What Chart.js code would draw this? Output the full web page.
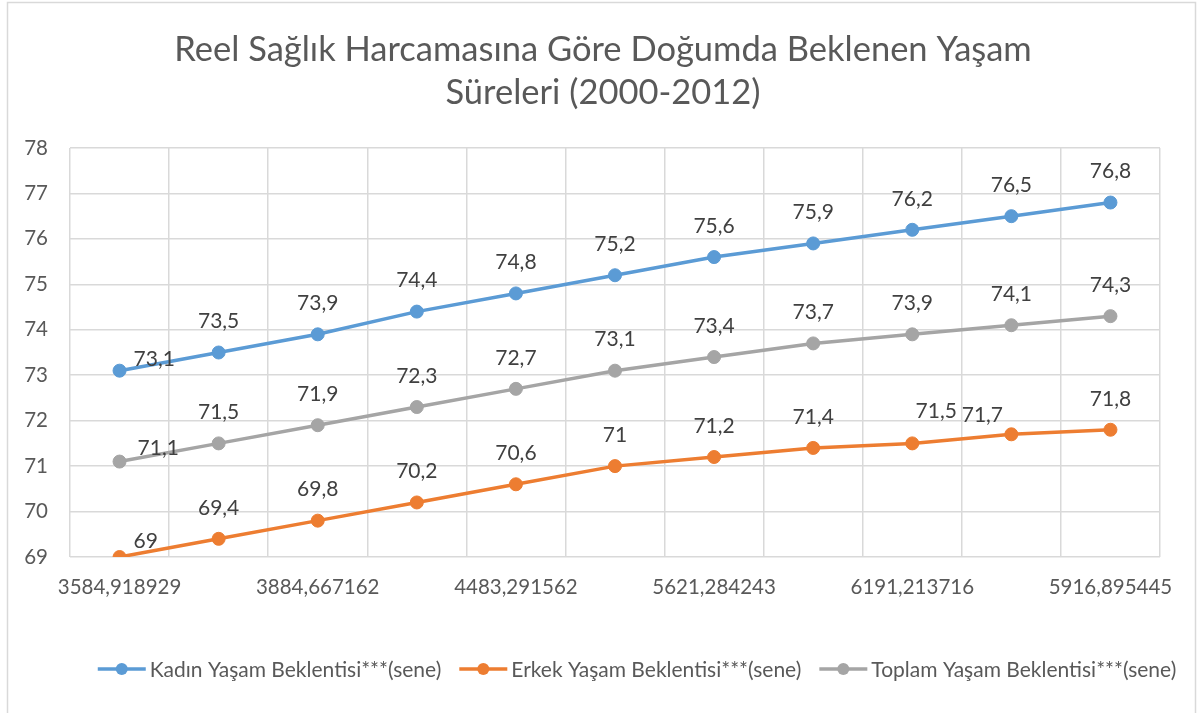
<!DOCTYPE html>
<html><head><meta charset="utf-8">
<script src="https://cdn.jsdelivr.net/npm/chart.js@4.4.1/dist/chart.umd.min.js"></script>
<style>html,body{margin:0;padding:0;background:#fff}#wrap{width:1198px;height:713px;position:relative}canvas{display:block}</style>
</head><body><div id="wrap"><canvas id="c" width="1198" height="713"></canvas></div>
<script>
// ---- data ----
const categories = ['3584,918929', '', '3884,667162', '', '4483,291562', '', '5621,284243', '', '6191,213716', '', '5916,895445'];
const kadin  = [73.1, 73.5, 73.9, 74.4, 74.8, 75.2, 75.6, 75.9, 76.2, 76.5, 76.8];
const erkek  = [69, 69.4, 69.8, 70.2, 70.6, 71, 71.2, 71.4, 71.5, 71.7, 71.8];
const toplam = [71.1, 71.5, 71.9, 72.3, 72.7, 73.1, 73.4, 73.7, 73.9, 74.1, 74.3];
const seriesNames = ['Kadın Yaşam Beklentisi***(sene)', 'Erkek Yaşam Beklentisi***(sene)', 'Toplam Yaşam Beklentisi***(sene)'];
const titleLines = ['Reel Sağlık Harcamasına Göre Doğumda Beklenen Yaşam', 'Süreleri (2000-2012)'];
const yMin = 69, yMax = 78, yStep = 1;

// ---- styling ----
const FONT = 'Lato';
const TEXT = '#595959';
const LABEL = '#404040';
const GRID = '#d9d9d9';
const colors = ['#5b9bd5', '#ed7d31', '#a5a5a5'];

// label nudges (Excel placed a few labels off the default "above" spot)
const nudges = {
  '0:0': {dx: 14, dy: -11, align: 'left'},
  '1:0': {dx: 14, dy: -16, align: 'left'},
  '2:0': {dx: 18, dy: -13, align: 'left'},
  '1:8': {dx: 24, dy: -32, align: 'center'},
  '1:9': {dx: -29, dy: -19, align: 'center'}
};

const fmt = v => String(v).replace('.', ',');

const framePlugin = {
  id: 'frame',
  beforeDraw(chart) {
    const ctx = chart.ctx;
    ctx.save();
    ctx.fillStyle = '#fff';
    ctx.fillRect(0, 0, chart.width, chart.height);
    ctx.strokeStyle = GRID;
    ctx.lineWidth = 1.5;
    ctx.strokeRect(7.5, 2.5, 1188, 730);
    // title
    ctx.fillStyle = TEXT;
    ctx.font = '34.5px ' + FONT;
    ctx.textAlign = 'center';
    ctx.textBaseline = 'middle';
    titleLines.forEach((t, i) => ctx.fillText(t, 603, 50 + i * 43));
    ctx.restore();
  }
};

const labelPlugin = {
  id: 'vlabels',
  afterDatasetsDraw(chart) {
    const ctx = chart.ctx;
    ctx.save();
    ctx.font = '21px ' + FONT;
    ctx.fillStyle = LABEL;
    ctx.textBaseline = 'middle';
    chart.data.datasets.forEach((ds, di) => {
      const meta = chart.getDatasetMeta(di);
      meta.data.forEach((pt, i) => {
        const n = nudges[di + ':' + i] || {dx: 0, dy: -31, align: 'center'};
        ctx.textAlign = n.align;
        ctx.fillText(fmt(ds.data[i]), pt.x + n.dx, pt.y + n.dy);
      });
    });
    ctx.restore();
  }
};

const legendPlugin = {
  id: 'customLegend',
  afterDraw(chart) {
    const ctx = chart.ctx;
    ctx.save();
    ctx.font = '21px ' + FONT;
    const lineW = 48, gapText = 4, gapItem = 18;
    const items = chart.data.datasets.map((ds, i) => ({label: ds.label, color: colors[i], w: ctx.measureText(ds.label).width}));
    let total = 0;
    items.forEach((it, i) => { total += lineW + gapText + it.w + (i < items.length - 1 ? gapItem : 0); });
    let x = 637 - total / 2;
    const y = 669;
    items.forEach(it => {
      ctx.strokeStyle = it.color;
      ctx.lineWidth = 3.5;
      ctx.beginPath(); ctx.moveTo(x, y); ctx.lineTo(x + lineW, y); ctx.stroke();
      ctx.fillStyle = it.color;
      ctx.beginPath(); ctx.arc(x + lineW / 2, y, 6, 0, Math.PI * 2); ctx.fill();
      ctx.fillStyle = TEXT;
      ctx.textAlign = 'left'; ctx.textBaseline = 'middle';
      ctx.fillText(it.label, x + lineW + gapText, y + 1);
      x += lineW + gapText + it.w + gapItem;
    });
    ctx.restore();
  }
};

const mkDs = (label, data, color) => ({
  label, data,
  borderColor: color, backgroundColor: color,
  pointBackgroundColor: color, pointBorderColor: color,
  pointRadius: 6.5, pointBorderWidth: 1, pointHoverRadius: 6.5,
  borderWidth: 3.5, tension: 0, fill: false
});

new Chart(document.getElementById('c'), {
  type: 'line',
  data: {
    labels: categories,
    datasets: [
      mkDs(seriesNames[0], kadin, colors[0]),
      mkDs(seriesNames[1], erkek, colors[1]),
      mkDs(seriesNames[2], toplam, colors[2])
    ]
  },
  options: {
    responsive: false,
    animation: false,
    devicePixelRatio: 1,
    layout: {padding: {left: 0, right: 38, top: 148, bottom: 0}},
    plugins: {
      legend: {display: false},
      tooltip: {enabled: false},
      title: {display: false}
    },
    scales: {
      x: {
        offset: true,
        grid: {offset: true, color: GRID, lineWidth: 1.5, drawTicks: false},
        border: {display: false},
        ticks: {autoSkip: false, maxRotation: 0, minRotation: 0, padding: 18, color: TEXT, font: {family: FONT, size: 20.5}},
        afterFit(s) { s.height = 156; }
      },
      y: {
        min: yMin, max: yMax,
        grid: {color: GRID, lineWidth: 1.5, drawTicks: false},
        border: {display: false},
        ticks: {stepSize: yStep, padding: 22, color: TEXT, font: {family: FONT, size: 20.5}},
        afterFit(s) { s.width = 70; }
      }
    }
  },
  plugins: [framePlugin, labelPlugin, legendPlugin]
});
</script>
</body></html>
